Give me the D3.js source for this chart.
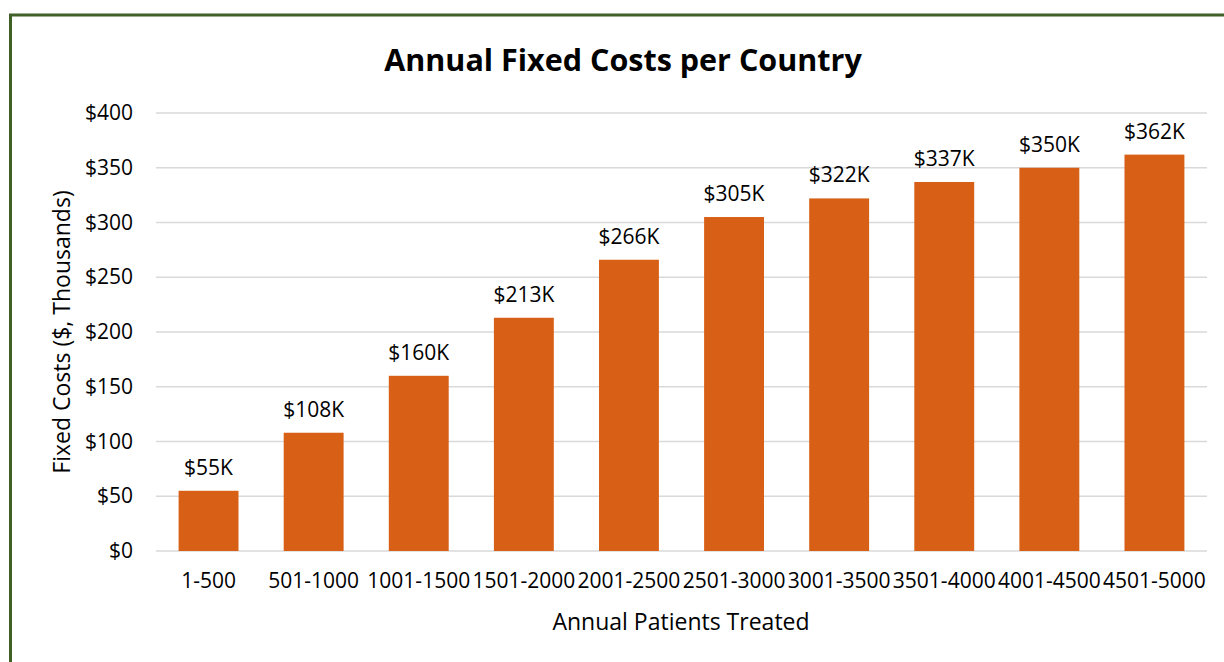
<!DOCTYPE html>
<html>
<head>
<meta charset="utf-8">
<script src="https://cdn.jsdelivr.net/npm/d3@7"></script>
<style>
  body { margin: 0; background: #fff; }
  svg { font-family: "Open Sans", sans-serif; }
</style>
</head>
<body>
<div id="chart"></div>
<script>
const categories = ['1-500', '501-1000', '1001-1500', '1501-2000', '2001-2500',
  '2501-3000', '3001-3500', '3501-4000', '4001-4500', '4501-5000'];
const costs = [55, 108, 160, 213, 266, 305, 322, 337, 350, 362];
const yTicks = [0, 50, 100, 150, 200, 250, 300, 350, 400];

const width = 1224, height = 662;
const margin = {top: 113, right: 17, bottom: 111, left: 156};

const svg = d3.select('#chart').append('svg')
  .attr('width', width).attr('height', height);

// frame
svg.append('rect')
  .attr('x', 10.5).attr('y', 15).attr('width', 1240).attr('height', 700)
  .attr('fill', 'none').attr('stroke', '#3f6127').attr('stroke-width', 3);

const x = d3.scaleBand().domain(categories)
  .range([margin.left, width - margin.right]).paddingInner(0.43).paddingOuter(0.215);
const y = d3.scaleLinear().domain([0, 400]).range([height - margin.bottom, margin.top]);

// gridlines
svg.append('g').selectAll('line').data(yTicks).enter()
  .append('line')
  .attr('x1', margin.left).attr('x2', width - margin.right)
  .attr('y1', d => y(d)).attr('y2', d => y(d))
  .attr('stroke', '#d9d9d9').attr('stroke-width', 1.5);

// y tick labels
const yAxis = svg.append('g')
  .attr('transform', `translate(${margin.left - 20},0)`)
  .call(d3.axisLeft(y).tickValues(yTicks).tickSize(0).tickFormat(d => '$' + d));
yAxis.select('.domain').remove();
yAxis.selectAll('text').attr('font-size', 21).attr('fill', '#000')
  .attr('font-family', '"Open Sans", sans-serif');

// bars
svg.append('g').selectAll('rect').data(costs).enter()
  .append('rect')
  .attr('x', (d, i) => x(categories[i]))
  .attr('width', x.bandwidth())
  .attr('y', d => y(d))
  .attr('height', d => y(0) - y(d))
  .attr('fill', '#d86016');

// data labels
svg.append('g').selectAll('text').data(costs).enter()
  .append('text')
  .attr('x', (d, i) => x(categories[i]) + x.bandwidth() / 2)
  .attr('y', d => y(d) - 16)
  .attr('text-anchor', 'middle')
  .attr('font-size', 21)
  .text(d => '$' + d + 'K');

// x axis labels
const xAxis = svg.append('g')
  .attr('transform', `translate(0,${y(0)})`)
  .call(d3.axisBottom(x).tickSize(0).tickPadding(22));
xAxis.select('.domain').remove();
xAxis.selectAll('text').attr('font-size', 21).attr('fill', '#000')
  .attr('font-family', '"Open Sans", sans-serif');

// title
svg.append('text')
  .attr('x', 623).attr('y', 71)
  .attr('text-anchor', 'middle')
  .attr('font-size', 30.5).attr('font-weight', 'bold')
  .text('Annual Fixed Costs per Country');

// axis titles
svg.append('text')
  .attr('x', 681).attr('y', 630)
  .attr('text-anchor', 'middle').attr('font-size', 23)
  .text('Annual Patients Treated');

svg.append('text')
  .attr('transform', `translate(70,${(y(0) + y(400)) / 2}) rotate(-90)`)
  .attr('text-anchor', 'middle').attr('font-size', 23)
  .text('Fixed Costs ($, Thousands)');
</script>
</body>
</html>
